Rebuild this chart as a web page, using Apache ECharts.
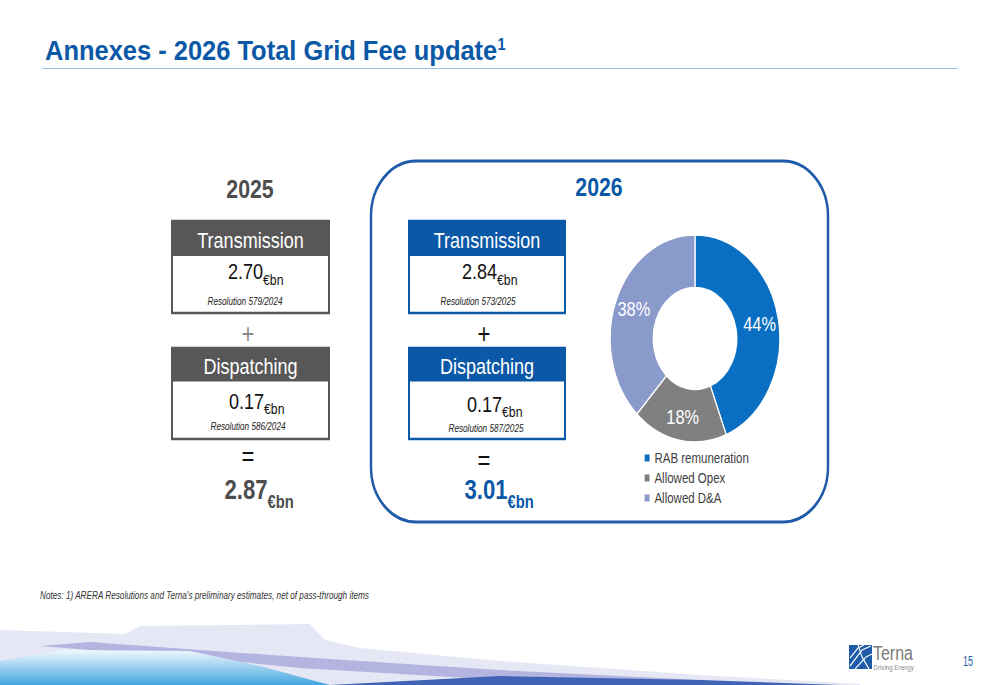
<!DOCTYPE html>
<html lang="en">
<head>
	<meta charset="UTF-8">
	<title>Annexes - 2026 Total Grid Fee update</title>
	<style>
		* {
			margin: 0;
			padding: 0;
		}

		body {
			width: 1000px;
			height: 685px;
			overflow: hidden;
			background: #fff;
		}

		/* the slide is drawn 1220 wide and squeezed, like the original deck */
		#box {
			width: 1220px;
			height: 685px;
			transform: scaleX(0.81967);
			transform-origin: 0 0;
		}
	</style>
	<script src="https://cdn.jsdelivr.net/npm/echarts@6/dist/echarts.min.js"></script>
</head>
<body>
<div id="box"></div>
</body>
<script>
	// data
	const years = ['2025', '2026'];
	const transmission = [2.70, 2.84];
	const dispatching = [0.17, 0.17];
	const totals = [2.87, 3.01];
	const resTransmission = ['Resolution 579/2024', 'Resolution 573/2025'];
	const resDispatching = ['Resolution 586/2024', 'Resolution 587/2025'];
	const sliceNames = ['RAB remuneration', 'Allowed Opex', 'Allowed D&A'];
	const sliceShares = [44, 18, 38];

	const FONT = '"Liberation Sans", Arial, Helvetica, sans-serif';
	const K = 1220 / 1000;
	const px = x => x * K; // slide x -> chart x
	const grey = '#575757';
	const blue = '#0b58a6';
	const sliceColors = ['#0a6fc2', '#808080', '#8a9acb'];

	function txt(x, y, text, size, color, extra) {
		return Object.assign({
			type: 'text',
			x: px(x),
			y: y,
			silent: true,
			style: Object.assign({
				text: text,
				fill: color,
				fontSize: size,
				fontFamily: FONT,
				align: 'center',
				verticalAlign: 'middle'
			}, extra && extra.style)
		}, extra && extra.el);
	}

	function box(x0, x1, y0, yh, y1, color) {
		return [
			{
				type: 'rect', silent: true,
				shape: {x: px(x0), y: y0, width: px(x1 - x0), height: y1 - y0},
				style: {fill: '#fff', stroke: color, lineWidth: 2.4}
			},
			{
				type: 'rect', silent: true,
				shape: {x: px(x0), y: y0, width: px(x1 - x0), height: yh - y0},
				style: {fill: color}
			}
		];
	}

	// one column of the slide (2025 on the left, 2026 inside the frame)
	function column(i, c) {
		const color = i === 0 ? grey : blue;
		const totalColor = i === 0 ? '#4d4d4d' : blue;
		return [].concat(
			txt(c.cx, c.yearY, years[i], 26, totalColor, {style: {fontWeight: 'bold'}}),
			box(c.x0, c.x1, 221, 256, 313, color),
			txt(c.hx, 240, 'Transmission', 22, '#fff'),
			txt(c.tEdge, 271.5, transmission[i].toFixed(2), 22, '#111', {style: {align: 'right'}}),
			txt(c.tEdge, 280, '€bn', 15, '#111', {style: {align: 'left'}}),
			txt(c.rT, 302, resTransmission[i], 10, '#222', {style: {fontStyle: 'italic'}}),
			txt(c.cx2, 334, '+', 27, i === 0 ? '#8a8a8a' : '#111'),
			box(c.x0, c.x1, 348, 381.5, 439, color),
			txt(c.hx, 366, 'Dispatching', 22, '#fff'),
			txt(c.dEdge, c.dY, dispatching[i].toFixed(2), 22, '#111', {style: {align: 'right'}}),
			txt(c.dEdge, c.dY + 8, '€bn', 15, '#111', {style: {align: 'left'}}),
			txt(c.rD, c.rDY, resDispatching[i], 10, '#222', {style: {fontStyle: 'italic'}}),
			txt(c.cx2, c.eqY, '=', 27, '#111'),
			txt(c.sEdge, 490, totals[i].toFixed(2), 27, totalColor, {style: {align: 'right', fontWeight: 'bold'}}),
			txt(c.sEdge, 501, '€bn', 18, totalColor, {style: {align: 'left', fontWeight: 'bold'}})
		);
	}

	const cols = [
		{cx: 250, yearY: 189, x0: 172, x1: 329, hx: 250.5, tEdge: 263, rT: 245, cx2: 248,
			dEdge: 264, dY: 401, rD: 248, rDY: 427, eqY: 457, sEdge: 267.5},
		{cx: 599, yearY: 187, x0: 409, x1: 565, hx: 487, tEdge: 497, rT: 478, cx2: 484,
			dEdge: 502, dY: 404, rD: 486, rDY: 429, eqY: 461, sEdge: 507.5}
	];

	const poly = pts => pts.map(p => [px(p[0]), p[1]]);

	// bottom wave + logo, only as decoration
	const decor = [
		{
			type: 'polygon', silent: true,
			shape: {points: poly([[0, 630], [125, 634], [140, 626], [310, 624], [325, 640], [360, 648], [500, 661],
					[700, 675], [860, 684], [860, 685], [0, 685]])},
			style: {fill: '#e6e7f4'}
		},
		{
			type: 'polygon', silent: true,
			shape: {points: poly([[40, 646], [90, 642], [200, 650], [330, 659], [500, 670], [700, 680], [770, 685],
					[500, 680], [300, 668], [180, 656], [90, 650]])},
			style: {fill: '#b3b5e0'}
		},
		{
			type: 'polygon', silent: true,
			shape: {points: poly([[0, 661], [60, 650], [190, 651], [260, 666], [330, 685], [0, 685]])},
			style: {
				fill: new echarts.graphic.LinearGradient(0, 0, 0, 1, [
					{offset: 0, color: '#f1f8fd'},
					{offset: 1, color: '#42a6df'}
				])
			}
		},
		{
			type: 'polygon', silent: true,
			shape: {points: poly([[330, 685], [500, 676], [700, 680], [840, 685]])},
			style: {fill: '#4063b6'}
		},
		{
			type: 'rect', silent: true,
			shape: {x: px(849), y: 645, width: px(23), height: 24},
			style: {fill: '#1f5ca8'}
		},
		{
			type: 'polyline', silent: true,
			shape: {points: poly([[850, 666], [862, 650], [871, 646]])},
			style: {stroke: '#fff', lineWidth: 1.3, fill: null}
		},
		{
			type: 'polyline', silent: true,
			shape: {points: poly([[850, 658], [858, 648], [864, 645]])},
			style: {stroke: '#fff', lineWidth: 1.3, fill: null}
		},
		{
			type: 'polyline', silent: true,
			shape: {points: poly([[855, 669], [866, 657], [872, 654]])},
			style: {stroke: '#fff', lineWidth: 1.3, fill: null}
		},
		{
			type: 'polyline', silent: true,
			shape: {points: poly([[858, 645], [862, 657], [869, 669]])},
			style: {stroke: '#fff', lineWidth: 1.3, fill: null}
		},
		txt(873, 653.5, 'Terna', 19.5, '#7a7a7a', {style: {align: 'left'}}),
		txt(873.5, 667.6, 'Driving Energy', 7.5, '#8a8a8a', {style: {align: 'left'}}),
		txt(968, 661, '15', 14, '#1f5ca8', {el: {scaleX: 0.78}})
	];

	const myEcharts = echarts.init(document.getElementById('box'), null, {renderer: 'svg'});

	myEcharts.setOption({
		animation: false,
		legend: {
			orient: 'vertical',
			left: px(643),
			top: 451,
			padding: 0,
			icon: 'rect',
			itemWidth: 8,
			itemHeight: 9,
			itemGap: 6,
			selectedMode: false,
			textStyle: {fontSize: 14, color: '#404040', fontFamily: FONT},
			data: sliceNames
		},
		graphic: {
			elements: [
				// title + rule
				{
					type: 'text', silent: true,
					x: px(45), y: 50.5,
					scaleX: 1.11,
					style: {
						text: '{t|Annexes - 2026 Total Grid Fee update}{s|1}',
						align: 'left',
						verticalAlign: 'middle',
						rich: {
							t: {fontSize: 28, fontWeight: 'bold', fill: blue, fontFamily: FONT},
							s: {fontSize: 16, fontWeight: 'bold', fill: blue, fontFamily: FONT, verticalAlign: 'top'}
						}
					}
				},
				{
					type: 'line', silent: true,
					shape: {x1: px(42), y1: 68.5, x2: px(958), y2: 68.5},
					style: {stroke: '#86b6e0', lineWidth: 1}
				},
				// 2026 frame
				{
					type: 'rect', silent: true,
					shape: {x: px(371), y: 161, width: px(457), height: 361, r: 55},
					style: {fill: 'none', stroke: '#1f5ba8', lineWidth: 3}
				}
			]
				.concat(column(0, cols[0]))
				.concat(column(1, cols[1]))
				.concat([
					txt(40, 596, "Notes: 1) ARERA Resolutions and Terna's preliminary estimates, net of pass-through items",
						10, '#333', {style: {align: 'left', fontStyle: 'italic'}})
				])
				.concat(decor)
		},
		series: [
			{
				name: 'Total Grid Fee 2026',
				type: 'pie',
				center: [px(695), 338.5],
				radius: [51, 103.5],
				startAngle: 90,
				clockwise: true,
				avoidLabelOverlap: false,
				emphasis: {disabled: true},
				itemStyle: {borderColor: '#fff', borderWidth: 1.5},
				label: {
					show: true,
					position: 'inside',
					formatter: '{c}%',
					color: '#fff',
					fontSize: 20,
					fontWeight: 'normal',
					textBorderWidth: 0,
					fontFamily: FONT
				},
				labelLine: {show: false},
				data: sliceNames.map(function (n, i) {
					return {name: n, value: sliceShares[i], itemStyle: {color: sliceColors[i]}};
				})
			}
		]
	});
</script>
</html>
